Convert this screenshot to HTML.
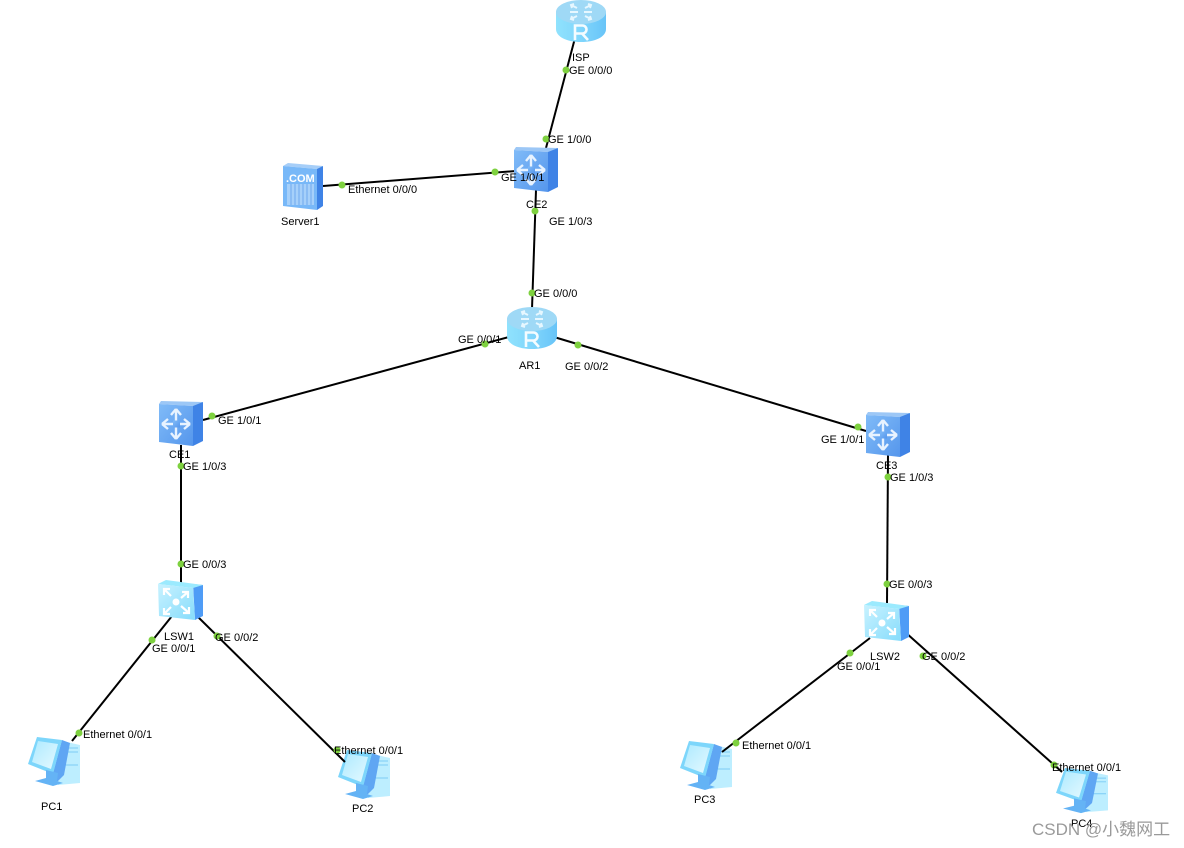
<!DOCTYPE html>
<html><head><meta charset="utf-8"><style>
html,body{margin:0;padding:0;background:#fff;width:1184px;height:848px;overflow:hidden}
svg{display:block}
text{font-family:"Liberation Sans","Noto Sans CJK SC",sans-serif;font-size:11px;fill:#000}
.l line{stroke:#000;stroke-width:2}
.d circle{fill:#7ed13f;r:3.5px}
</style></head><body>
<svg width="1184" height="848" viewBox="0 0 1184 848">
<defs>
<linearGradient id="rt" x1="0" x2="1" y1="0" y2="0"><stop offset="0" stop-color="#90e2fd"/><stop offset=".5" stop-color="#80d6fc"/><stop offset="1" stop-color="#68c4f8"/></linearGradient>
<linearGradient id="sf" x1="0" x2="1" y1="0" y2="1"><stop offset="0" stop-color="#80bbf8"/><stop offset="1" stop-color="#5596ec"/></linearGradient>
<linearGradient id="lf" x1="0" x2="1" y1="0" y2="1"><stop offset="0" stop-color="#c8f2ff"/><stop offset="1" stop-color="#86dcfb"/></linearGradient>
<linearGradient id="mon" x1="0" x2="1" y1="0" y2="1"><stop offset="0" stop-color="#aeeaff"/><stop offset="1" stop-color="#e4f9ff"/></linearGradient>
<symbol id="router" viewBox="0 0 50 42" overflow="visible" preserveAspectRatio="none">
<path d="M0 12V29C0 37 11 42 25 42S50 37 50 29V12Z" fill="url(#rt)"/>
<ellipse cx="25" cy="12" rx="25" ry="12" fill="#9fd9f6"/>
<path d="M15 5l6 3M18 4l-3 1 1 3M35 5l-6 3M32 4l3 1-1 3M15 19l6-3M18 20l-3-1 1-3M35 19l-6-3M32 20l3-1-1-3" stroke="#e6f7ff" stroke-width="2" fill="none"/>
<path d="M14 12h8M28 12h8" stroke="#e6f7ff" stroke-width="2" fill="none"/>
<path d="M19 40V25.500h7.500a4 4 0 0 1 0 8h-7.500M26 33.500l6 6.500" stroke="#f4fcff" stroke-width="2.600" fill="none"/>
</symbol>
<symbol id="ce" viewBox="0 0 44 45" overflow="visible" preserveAspectRatio="none">
<path d="M34 4L44 1V40L34 45Z" fill="#3f83e6"/>
<path d="M2 0L44 1 34 5 0 3Z" fill="#9cc7f6"/>
<path d="M0 3L34 5V45L0 41Z" fill="url(#sf)"/>
<path d="M17 8V38M3 23H31M17 8l-5 6M17 8l5 6M17 38l-5-6M17 38l5-6M3 23l6-5M3 23l6 5M31 23l-6-5M31 23l-6 5" stroke="#e8f3ff" stroke-width="2.400" fill="none"/>
<rect x="14" y="19.500" width="7" height="7" fill="url(#sf)"/>
</symbol>
<symbol id="lsw" viewBox="0 0 45 40" overflow="visible" preserveAspectRatio="none">
<path d="M35 4L45 5V36L37 40Z" fill="#4f9cf6"/>
<path d="M8 0L45 5 35 8 0 4Z" fill="#9beafe"/>
<path d="M0 4L35 8 37 40 1 36Z" fill="url(#lf)"/>
<circle cx="18" cy="22" r="3.500" fill="#fff"/>
<path d="M6 9l7 7M6 15V9h6M30 12l-7 6M24 12h6v6M6 34l7-7M6 28v6h6M31 33l-8-7M31 27v6h-6" stroke="#fff" stroke-width="2.200" fill="none"/>
</symbol>
<symbol id="server" viewBox="0 0 40 47" overflow="visible" preserveAspectRatio="none">
<path d="M34 5L40 3V43L34 47Z" fill="#3f83e6"/>
<path d="M5 0L40 3 34 6 0 3Z" fill="#a6cef8"/>
<path d="M0 3L34 6V47L0 43Z" fill="#78b8f8"/>
<rect x="4" y="21" width="27" height="21" fill="#a6d0fa"/>
<path d="M8 21v21M12 21v21M16 21v21M20 21v21M24 21v21M28 21v21" stroke="#6ea8ee" stroke-width="1"/>
<text x="3" y="19" style="font-size:11px;font-weight:bold;fill:#fff">.COM</text>
</symbol>
<symbol id="pc" viewBox="0 0 52 50" overflow="visible" preserveAspectRatio="none">
<path d="M30 3L52 8V46L30 48Z" fill="#bdeeff"/>
<path d="M36 11h14M36 15h14M36 28h14" stroke="#7dccf5" stroke-width="1"/>
<path d="M34 3L25 36 28 46 36 38 42 6Z" fill="#5fa6f3"/>
<path d="M9 0L34 3 25 37 0 27Z" fill="#7dd6fb"/>
<path d="M10 4L30 7 23 32 4 25Z" fill="url(#mon)"/>
<path d="M18 33l12 3-1 8 6 2-10 3-18-5 11-3Z" fill="#64b3f5"/>
</symbol>
</defs>

<use href="#pc" x="28" y="737" width="52" height="50"/>
<use href="#pc" x="338" y="750" width="52" height="50"/>
<use href="#pc" x="680" y="741" width="52" height="50"/>
<use href="#pc" x="1056" y="768" width="52" height="46"/>

<g class="l">
<line x1="575" y1="38" x2="546" y2="148"/>
<line x1="323" y1="186" x2="516" y2="171"/>
<line x1="536" y1="190" x2="532" y2="309"/>
<line x1="509" y1="337" x2="203" y2="420"/>
<line x1="554" y1="337" x2="866" y2="431"/>
<line x1="181" y1="445" x2="181" y2="583"/>
<line x1="888" y1="455" x2="887" y2="603"/>
<line x1="172" y1="616" x2="72" y2="741"/>
<line x1="196" y1="615" x2="345" y2="762"/>
<line x1="870" y1="638" x2="722" y2="752"/>
<line x1="905" y1="632" x2="1062" y2="772"/>
</g>

<use href="#router" x="556" y="0" width="50" height="42"/>
<use href="#router" x="507" y="307" width="50" height="42"/>
<use href="#ce" x="514" y="147" width="44" height="45"/>
<use href="#ce" x="159" y="401" width="44" height="45"/>
<use href="#ce" x="866" y="412" width="44" height="45"/>
<use href="#lsw" x="158" y="580" width="45" height="40"/>
<use href="#lsw" x="864" y="601" width="45" height="40"/>
<use href="#server" x="283" y="163" width="40" height="47"/>

<g class="d">
<circle cx="566" cy="70"/><circle cx="546" cy="139"/>
<circle cx="342" cy="185"/><circle cx="495" cy="172"/>
<circle cx="535" cy="211"/><circle cx="532" cy="293"/>
<circle cx="485" cy="344"/><circle cx="578" cy="345"/>
<circle cx="212" cy="416"/><circle cx="858" cy="427"/>
<circle cx="181" cy="466"/><circle cx="888" cy="477"/>
<circle cx="181" cy="564"/><circle cx="887" cy="584"/>
<circle cx="152" cy="640"/><circle cx="217" cy="636"/>
<circle cx="850" cy="653"/><circle cx="923" cy="656"/>
<circle cx="79" cy="733"/><circle cx="337" cy="750"/>
<circle cx="736" cy="743"/><circle cx="1054" cy="765"/>
</g>

<text x="572" y="61">ISP</text>
<text x="569" y="74">GE 0/0/0</text>
<text x="548" y="143">GE 1/0/0</text>
<text x="348" y="193">Ethernet 0/0/0</text>
<text x="501" y="181">GE 1/0/1</text>
<text x="281" y="225">Server1</text>
<text x="526" y="208">CE2</text>
<text x="549" y="225">GE 1/0/3</text>
<text x="534" y="297">GE 0/0/0</text>
<text x="458" y="343">GE 0/0/1</text>
<text x="519" y="369">AR1</text>
<text x="565" y="370">GE 0/0/2</text>
<text x="218" y="424">GE 1/0/1</text>
<text x="821" y="443">GE 1/0/1</text>
<text x="169" y="458">CE1</text>
<text x="876" y="469">CE3</text>
<text x="183" y="470">GE 1/0/3</text>
<text x="890" y="481">GE 1/0/3</text>
<text x="183" y="568">GE 0/0/3</text>
<text x="889" y="588">GE 0/0/3</text>
<text x="164" y="640">LSW1</text>
<text x="215" y="641">GE 0/0/2</text>
<text x="152" y="652">GE 0/0/1</text>
<text x="870" y="660">LSW2</text>
<text x="922" y="660">GE 0/0/2</text>
<text x="837" y="670">GE 0/0/1</text>
<text x="83" y="738">Ethernet 0/0/1</text>
<text x="334" y="754">Ethernet 0/0/1</text>
<text x="742" y="749">Ethernet 0/0/1</text>
<text x="1052" y="771">Ethernet 0/0/1</text>
<text x="41" y="810">PC1</text>
<text x="352" y="812">PC2</text>
<text x="694" y="803">PC3</text>
<text x="1071" y="827">PC4</text>
<text x="1032" y="835" style="font-size:17px;fill:#9a9a9a">CSDN @小魏网工</text>
</svg>
</body></html>
